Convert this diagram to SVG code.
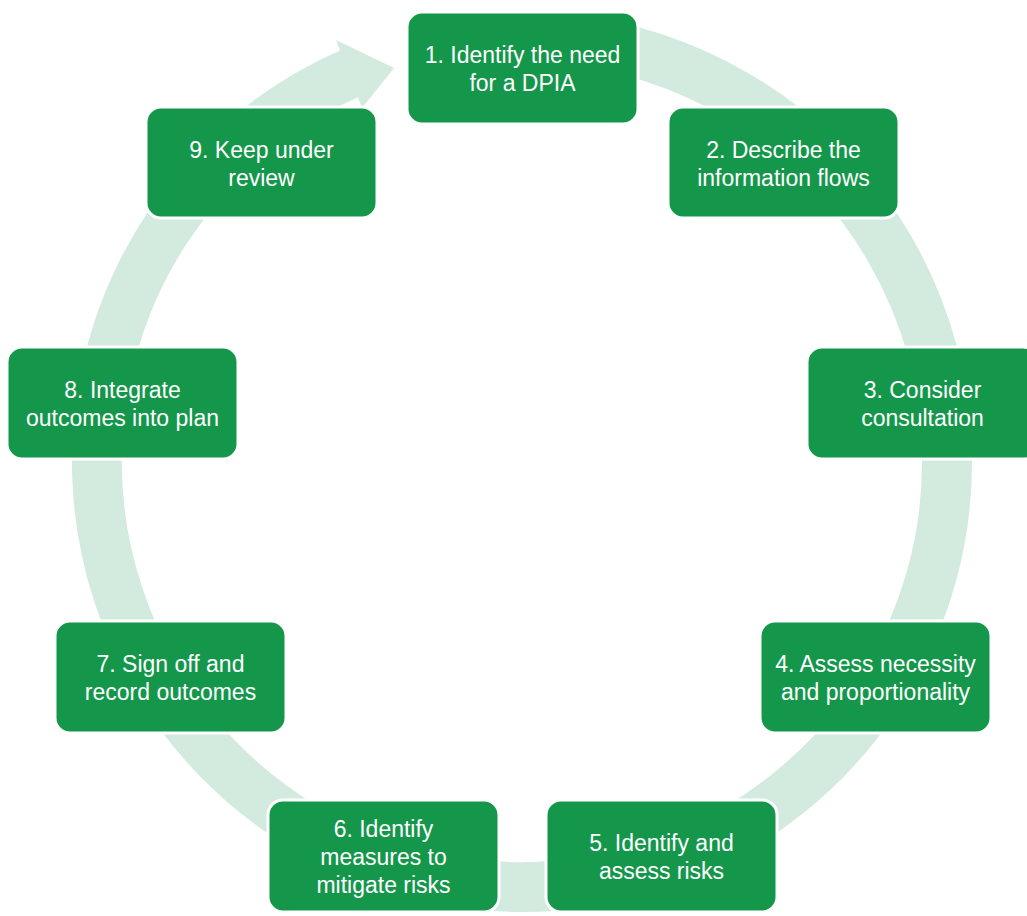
<svg xmlns="http://www.w3.org/2000/svg" width="1027" height="916" viewBox="0 0 1027 916">
<style>
.box{fill:#14974b;stroke:#ffffff;stroke-width:3}
.t{font-family:"Liberation Sans",Arial,sans-serif;font-size:23px;fill:#ffffff;text-anchor:middle}
.band{fill:none;stroke:#d3ebde;stroke-width:50}
.head{fill:#d3ebde}
</style>
<rect width="1027" height="916" fill="#ffffff"/>
<g id="connectors">
<path class="band" d="M559,38.6 A425,425 0 1 1 352.6,72.2"/>
<polygon class="head" points="336,40 394,68 362,108"/>
</g>
<g id="n1"><rect class="box" x="407" y="12" width="231" height="112" rx="15"/><text class="t" x="522.5" y="63">1. Identify the need</text><text class="t" x="522.5" y="91">for a DPIA</text></g>
<g id="n2"><rect class="box" x="668" y="107" width="231" height="111" rx="15"/><text class="t" x="783.5" y="158">2. Describe the</text><text class="t" x="783.5" y="186">information flows</text></g>
<g id="n3"><rect class="box" x="807" y="347" width="231" height="112" rx="15"/><text class="t" x="922.5" y="398">3. Consider</text><text class="t" x="922.5" y="426">consultation</text></g>
<g id="n4"><rect class="box" x="760" y="621" width="231" height="112" rx="15"/><text class="t" x="875.5" y="672">4. Assess necessity</text><text class="t" x="875.5" y="700">and proportionality</text></g>
<g id="n5"><rect class="box" x="546" y="800" width="231" height="112" rx="15"/><text class="t" x="661.5" y="851">5. Identify and</text><text class="t" x="661.5" y="879">assess risks</text></g>
<g id="n6"><rect class="box" x="268" y="800" width="231" height="112" rx="15"/><text class="t" x="383.5" y="837">6. Identify</text><text class="t" x="383.5" y="865">measures to</text><text class="t" x="383.5" y="893">mitigate risks</text></g>
<g id="n7"><rect class="box" x="55" y="621" width="231" height="112" rx="15"/><text class="t" x="170.5" y="672">7. Sign off and</text><text class="t" x="170.5" y="700">record outcomes</text></g>
<g id="n8"><rect class="box" x="7" y="347" width="231" height="112" rx="15"/><text class="t" x="122.5" y="398">8. Integrate</text><text class="t" x="122.5" y="426">outcomes into plan</text></g>
<g id="n9"><rect class="box" x="146" y="107" width="231" height="111" rx="15"/><text class="t" x="261.5" y="158">9. Keep under</text><text class="t" x="261.5" y="186">review</text></g>
</svg>
